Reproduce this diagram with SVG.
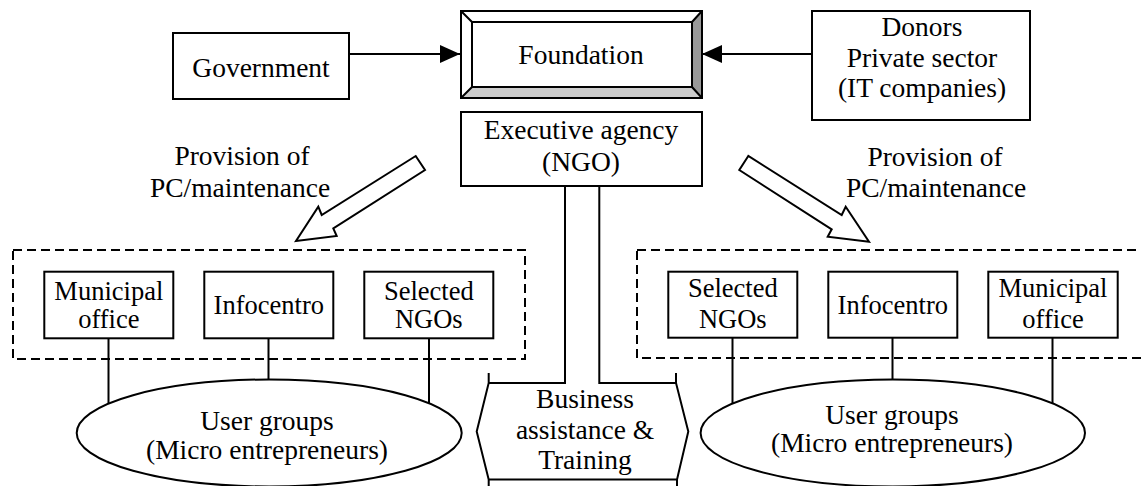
<svg xmlns="http://www.w3.org/2000/svg" width="1141" height="486" viewBox="0 0 1141 486" font-family="'Liberation Serif', 'Times New Roman', serif">
  <style>
    .box { fill: #fff; stroke: #000; stroke-width: 2; }
    .dash { fill: none; stroke: #000; stroke-width: 2; stroke-dasharray: 9 5; }
    .ln { fill: none; stroke: #000; stroke-width: 2; }
    .blk { fill: #fff; stroke: #000; stroke-width: 2; stroke-linejoin: miter; }
    text { font-family: 'Liberation Serif', 'Times New Roman', serif; font-size: 27.5px; fill: #000; text-anchor: middle; }
    .sm { font-size: 26.5px; }
  </style>
  <defs>
    <marker id="arrow" viewBox="0 0 20 18" refX="20" refY="9" markerWidth="20" markerHeight="18" markerUnits="userSpaceOnUse" orient="auto">
      <path d="M0,0 L20,9 L0,18 Z" fill="#000"/>
    </marker>
  </defs>

  <rect width="1141" height="486" fill="#fff"/>

  <!-- dashed groupings -->
  <rect class="dash" x="13" y="250" width="512" height="109"/>
  <rect class="dash" x="637" y="250" width="520" height="108"/>

  <!-- connectors -->
  <g id="connectors">
    <line class="ln" x1="349" y1="54" x2="460" y2="54" marker-end="url(#arrow)"/>
    <line class="ln" x1="812" y1="54" x2="702" y2="54" marker-end="url(#arrow)"/>
    <line class="ln" x1="108.5" y1="338" x2="108.5" y2="404"/>
    <line class="ln" x1="268.5" y1="338" x2="268.5" y2="380"/>
    <line class="ln" x1="429" y1="338" x2="429" y2="403"/>
    <line class="ln" x1="732.5" y1="338" x2="732.5" y2="403"/>
    <line class="ln" x1="892.5" y1="338" x2="892.5" y2="380"/>
    <line class="ln" x1="1052.5" y1="338" x2="1052.5" y2="404"/>
    <!-- provision arrows -->
    <polygon class="blk" points="415.7,156 425,170 333.3,228.3 336.7,236 296,241 318.3,206.7 321.7,215"/>
    <polygon class="blk" points="748.3,156 739.3,170 831.7,229.3 827.7,236.7 869,241.7 845.7,206.7 841.7,215"/>
  </g>

  <g id="government">
    <rect class="box" x="173" y="33" width="176" height="66"/>
    <text x="261" y="77">Government</text>
  </g>

  <g id="foundation">
    <rect x="461" y="11" width="241" height="87" fill="#fff" stroke="#000" stroke-width="2"/>
    <polygon points="692,22 702,11 702,98 692,87" fill="#999"/>
    <polygon points="472,87 692,87 702,98 461,98" fill="#ccc"/>
    <rect x="461" y="11" width="241" height="87" fill="none" stroke="#000" stroke-width="2"/>
    <rect x="472" y="22" width="220" height="65" fill="none" stroke="#000" stroke-width="2"/>
    <path class="ln" d="M461,11 L472,22 M702,11 L692,22 M461,98 L472,87 M702,98 L692,87"/>
    <text x="581" y="64">Foundation</text>
  </g>

  <g id="donors">
    <rect class="box" x="812" y="11" width="218" height="109"/>
    <text x="922" y="36">Donors</text>
    <text x="922" y="66.5">Private sector</text>
    <text x="922" y="97">(IT companies)</text>
  </g>

  <g id="executive-agency">
    <rect class="box" x="461" y="112" width="241" height="74"/>
    <text x="581" y="139">Executive agency</text>
    <text x="581" y="171">(NGO)</text>
  </g>

  <g id="business-assistance">
    <path class="ln" d="M565,186 L565,383 L488.7,383 M488.7,373 L488.7,383 L476.7,431.5 L488.7,479.5 L488.7,490 M488.7,479.5 L677,479.5 M677,490 L677,479.5 L688.3,431.5 L676,383 L676,373 M676,383 L599.3,383 L599.3,186"/>
    <text x="585" y="408">Business</text>
    <text x="585" y="439">assistance &amp;</text>
    <text x="585" y="469">Training</text>
  </g>

  <g id="provision-left">
    <text x="242" y="165">Provision of</text>
    <text x="240" y="197">PC/maintenance</text>
  </g>
  <g id="provision-right">
    <text x="935" y="166">Provision of</text>
    <text x="936" y="197">PC/maintenance</text>
  </g>

  <g id="left-municipal">
    <rect class="box" x="44.3" y="271.7" width="129" height="66.6"/>
    <text class="sm" x="108.8" y="300">Municipal</text>
    <text class="sm" x="108.8" y="328">office</text>
  </g>
  <g id="left-infocentro">
    <rect class="box" x="204.3" y="271.7" width="129" height="66.6"/>
    <text class="sm" x="268.8" y="314">Infocentro</text>
  </g>
  <g id="left-ngos">
    <rect class="box" x="364.3" y="271.7" width="129" height="66.6"/>
    <text class="sm" x="428.8" y="300">Selected</text>
    <text class="sm" x="428.8" y="328">NGOs</text>
  </g>

  <g id="right-ngos">
    <rect class="box" x="668.3" y="271.7" width="129" height="66"/>
    <text class="sm" x="732.8" y="297">Selected</text>
    <text class="sm" x="732.8" y="328">NGOs</text>
  </g>
  <g id="right-infocentro">
    <rect class="box" x="828.3" y="271.7" width="129" height="66"/>
    <text class="sm" x="892.8" y="314">Infocentro</text>
  </g>
  <g id="right-municipal">
    <rect class="box" x="988.3" y="271.7" width="129.4" height="66"/>
    <text class="sm" x="1053" y="297">Municipal</text>
    <text class="sm" x="1053" y="328">office</text>
  </g>

  <g id="left-users">
    <ellipse class="box" cx="269.2" cy="433" rx="192.5" ry="53.5"/>
    <text x="267" y="430">User groups</text>
    <text x="267" y="459">(Micro entrepreneurs)</text>
  </g>
  <g id="right-users">
    <ellipse class="box" cx="892.8" cy="433" rx="192.2" ry="53.5"/>
    <text x="892" y="424">User groups</text>
    <text x="892" y="452">(Micro entrepreneurs)</text>
  </g>
</svg>
